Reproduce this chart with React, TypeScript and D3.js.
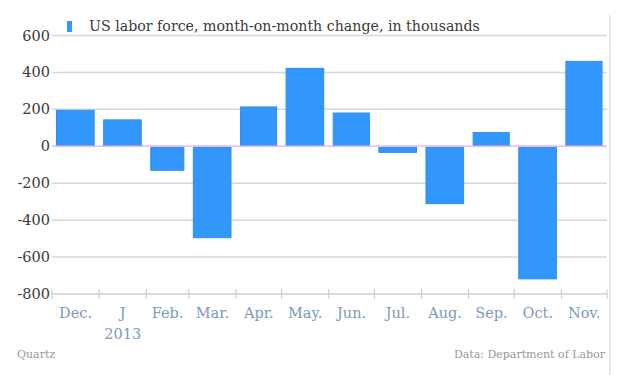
import React from "react";
import * as d3 from "d3";

const months = ["2012-12", "2013-01", "2013-02", "2013-03", "2013-04", "2013-05", "2013-06", "2013-07", "2013-08", "2013-09", "2013-10", "2013-11"];
const monthLabels = ["Dec.", "J", "Feb.", "Mar.", "Apr.", "May.", "Jun.", "Jul.", "Aug.", "Sep.", "Oct.", "Nov."];
const values = [195, 143, -130, -495, 213, 422, 180, -33, -311, 74, -718, 460];
const yTicks = [600, 400, 200, 0, -200, -400, -600, -800];
const title = "US labor force, month-on-month change, in thousands";

const W = 626, H = 375;
const FONT = "DejaVu Serif, serif";

export default function App() {
  const parse = d3.utcParse("%Y-%m");
  const starts = months.map((m) => parse(m) as Date);
  const end = d3.utcMonth.offset(starts[starts.length - 1], 1);
  const x = d3.scaleUtc().domain([starts[0], end]).range([52, 607]);
  const y = d3.scaleLinear().domain([-800, 600]).range([294, 35.5]);
  const tickDates = [...starts, end];

  return (
    <svg width={W} height={H} style={{ position: "absolute", left: 0, top: 0, background: "#fff" }} fontFamily={FONT}>
      <line x1={610} x2={610} y1={15} y2={H} stroke="#e9e9e5" strokeWidth={2} />
      {yTicks.map((t) => (
        <g key={t}>
          {t !== 0 && t !== -800 && (
            <line x1={52} x2={607} y1={y(t)} y2={y(t)} stroke="#d8d8d8" strokeWidth={1.5} />
          )}
          <text x={50} y={y(t) + 5} textAnchor="end" fontSize={14.5} fill="#3a3a3a">
            {t < 0 ? "-" + Math.abs(t) : t}
          </text>
        </g>
      ))}
      {/* bottom axis */}
      <line x1={52} x2={607} y1={y(-800)} y2={y(-800)} stroke="#d0d0d0" strokeWidth={1.5} />
      {tickDates.map((d, i) => (
        <line key={i} x1={x(d)} x2={x(d)} y1={y(-800) - 5} y2={y(-800) + 5} stroke="#c8c8c8" strokeWidth={1} />
      ))}
      {/* bars */}
      {values.map((v, i) => {
        const x0 = x(starts[i]) + 4.5;
        const x1 = x(d3.utcMonth.offset(starts[i], 1)) - 5;
        const y0 = y(Math.max(0, v));
        const y1 = y(Math.min(0, v));
        return (
          <rect key={i} x={x0} y={y0} width={x1 - x0} height={y1 - y0} fill="#3396fb" stroke="#2b8ef5" strokeWidth={1} />
        );
      })}
      <line x1={52} x2={607} y1={y(0)} y2={y(0)} stroke="#eab8f2" strokeWidth={1.5} />
      {/* x labels */}
      {monthLabels.map((l, i) => {
        const cx = (x(starts[i]) + x(d3.utcMonth.offset(starts[i], 1))) / 2;
        return (
          <g key={i}>
            <text x={cx} y={318} textAnchor="middle" fontSize={14.5} fill="#7d99bb">{l}</text>
            {i === 1 && <text x={cx} y={339} textAnchor="middle" fontSize={14.5} fill="#7d99bb">2013</text>}
          </g>
        );
      })}
      {/* legend */}
      <rect x={67} y={21} width={5} height={11} fill="#3396fb" />
      <text x={89} y={31} fontSize={14.2} fill="#3a3a3a">{title}</text>
      <text x={17} y={358} fontSize={11} fill="#999">Quartz</text>
      <text x={605} y={358} fontSize={11} fill="#999" textAnchor="end">Data: Department of Labor</text>
    </svg>
  );
}
